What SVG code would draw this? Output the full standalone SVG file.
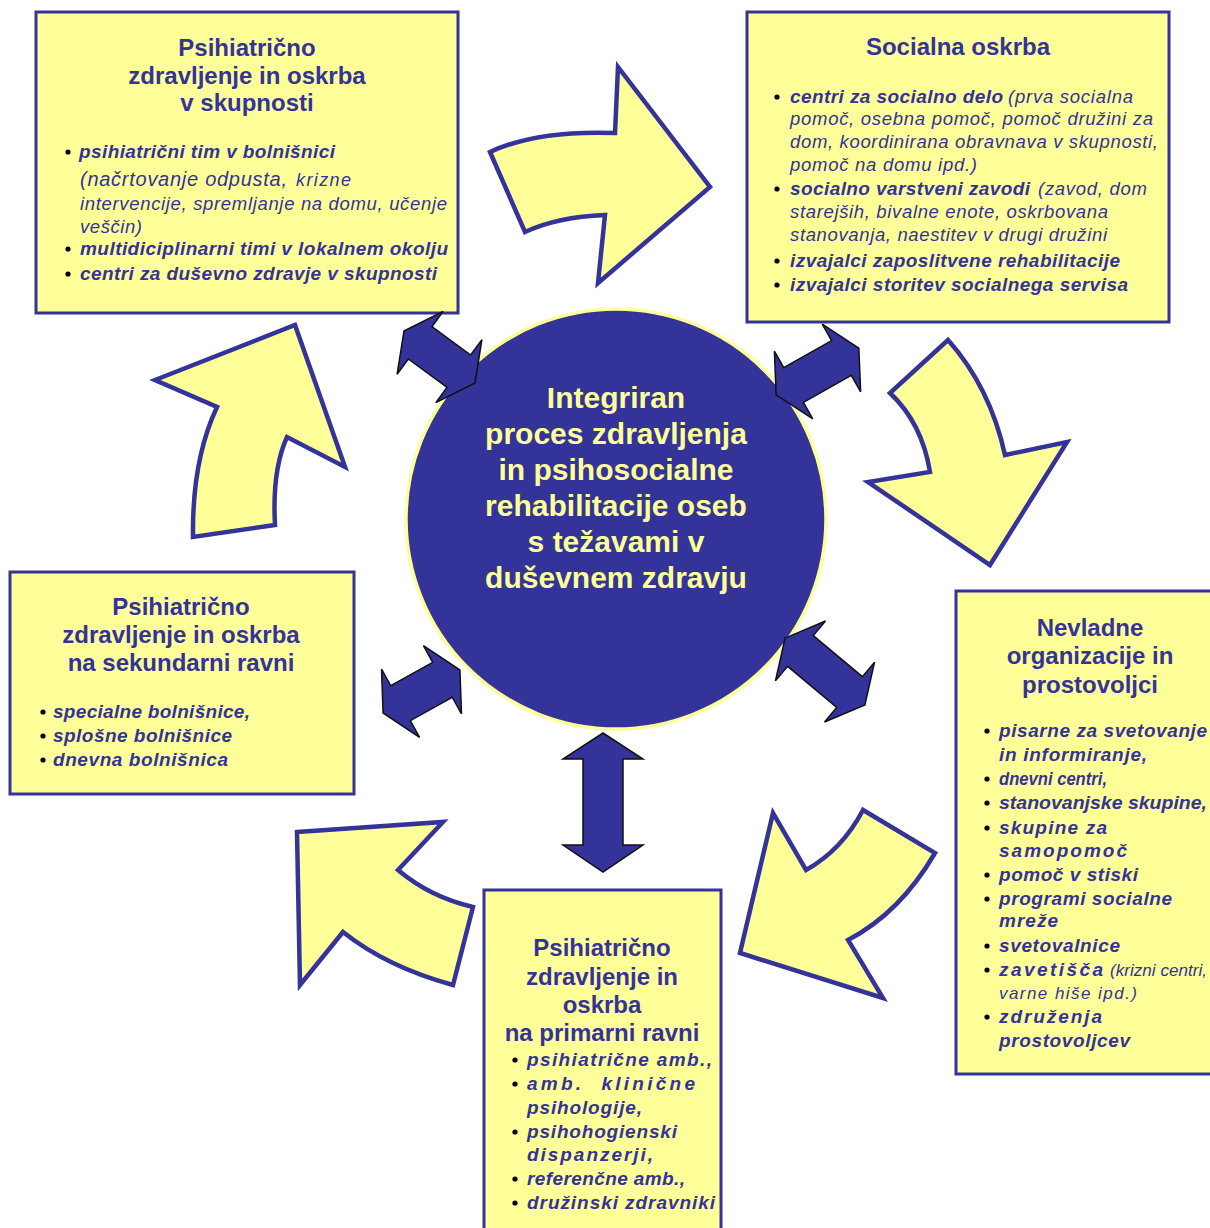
<svg xmlns="http://www.w3.org/2000/svg" width="1210" height="1228" viewBox="0 0 1210 1228">
<style>
.box{fill:#ffff99;stroke:#333399;stroke-width:3}
.t{font-family:'Liberation Sans',Arial,sans-serif;font-weight:bold;font-size:24px;fill:#333399;text-anchor:middle}
.b{font-family:'Liberation Sans',Arial,sans-serif;font-weight:bold;font-style:italic;font-size:19px;fill:#333399}
.n{font-family:'Liberation Sans',Arial,sans-serif;font-style:italic;font-size:18.5px;fill:#333399}
.c{font-family:'Liberation Sans',Arial,sans-serif;font-weight:bold;font-size:30px;fill:#ffff99;text-anchor:middle}
.dot{fill:#000}
.ya{fill:#ffff99;stroke:#333399;stroke-width:4.5;stroke-linejoin:miter}
.da{fill:#333399;stroke:#111;stroke-width:1.5;stroke-linejoin:miter}
</style>
<rect width="1210" height="1228" fill="#fff"/>

<g id="node-community">
<rect class="box" x="36" y="12" width="422" height="301"/>
<text class="t" x="247" y="56">Psihiatrično</text>
<text class="t" x="247" y="84">zdravljenje in oskrba</text>
<text class="t" x="247" y="111">v skupnosti</text>
<circle class="dot" cx="68" cy="152" r="2.6"/>
<text class="b" x="79" y="158" textLength="256">psihiatrični tim v bolnišnici</text>
<text class="n" x="80" y="186" style="font-size:20px" textLength="207">(načrtovanje odpusta,</text>
<text class="n" x="296" y="186" style="font-size:18px" textLength="55">krizne</text>
<text class="n" x="80" y="210" textLength="367">intervencije, spremljanje na domu, učenje</text>
<text class="n" x="80" y="233" textLength="62">veščin)</text>
<circle class="dot" cx="68" cy="249" r="2.6"/>
<text class="b" x="80" y="255" textLength="368">multidiciplinarni timi v lokalnem okolju</text>
<circle class="dot" cx="68" cy="274" r="2.6"/>
<text class="b" x="80" y="280" textLength="357">centri za duševno zdravje v skupnosti</text>
</g>

<g id="node-social">
<rect class="box" x="747" y="12" width="422" height="310"/>
<text class="t" x="958" y="55">Socialna oskrba</text>
<circle class="dot" cx="777" cy="97" r="2.6"/>
<text class="b" x="790" y="103" textLength="213">centri za socialno delo</text>
<text class="n" x="1008" y="103" textLength="125">(prva socialna</text>
<text class="n" x="790" y="125" textLength="363">pomoč, osebna pomoč, pomoč družini za</text>
<text class="n" x="790" y="148" textLength="368">dom, koordinirana obravnava v skupnosti,</text>
<text class="n" x="790" y="171" textLength="187">pomoč na domu ipd.)</text>
<circle class="dot" cx="777" cy="189" r="2.6"/>
<text class="b" x="790" y="195" textLength="240">socialno varstveni zavodi</text>
<text class="n" x="1038" y="195" textLength="109">(zavod, dom</text>
<text class="n" x="790" y="218" textLength="318">starejših, bivalne enote, oskrbovana</text>
<text class="n" x="790" y="241" textLength="317">stanovanja, naestitev v drugi družini</text>
<circle class="dot" cx="777" cy="261" r="2.6"/>
<text class="b" x="790" y="267" textLength="330">izvajalci zaposlitvene rehabilitacije</text>
<circle class="dot" cx="777" cy="285" r="2.6"/>
<text class="b" x="790" y="291" textLength="338">izvajalci storitev socialnega servisa</text>
</g>

<g id="node-ngo">
<rect class="box" x="956" y="591" width="270" height="483"/>
<text class="t" x="1090" y="636">Nevladne</text>
<text class="t" x="1090" y="664">organizacije in</text>
<text class="t" x="1090" y="693">prostovoljci</text>
<circle class="dot" cx="987" cy="731" r="2.6"/>
<text class="b" x="999" y="737" textLength="208">pisarne za svetovanje</text>
<text class="b" x="999" y="761" textLength="148">in informiranje,</text>
<circle class="dot" cx="987" cy="779" r="2.6"/>
<text class="b" x="999" y="785" textLength="108" lengthAdjust="spacingAndGlyphs">dnevni centri,</text>
<circle class="dot" cx="987" cy="803" r="2.6"/>
<text class="b" x="999" y="809" textLength="208" lengthAdjust="spacingAndGlyphs">stanovanjske skupine,</text>
<circle class="dot" cx="987" cy="828" r="2.6"/>
<text class="b" x="999" y="834" textLength="108">skupine za</text>
<text class="b" x="999" y="857" textLength="128">samopomoč</text>
<circle class="dot" cx="987" cy="875" r="2.6"/>
<text class="b" x="999" y="881" textLength="139">pomoč v stiski</text>
<circle class="dot" cx="987" cy="899" r="2.6"/>
<text class="b" x="999" y="905" textLength="173">programi socialne</text>
<text class="b" x="999" y="927" textLength="59">mreže</text>
<circle class="dot" cx="987" cy="946" r="2.6"/>
<text class="b" x="999" y="952" textLength="121">svetovalnice</text>
<circle class="dot" cx="987" cy="970" r="2.6"/>
<text class="b" x="999" y="976" textLength="104">zavetišča</text>
<text class="n" x="1110" y="976" style="font-size:17px" textLength="97">(krizni centri,</text>
<text class="n" x="999" y="999" style="font-size:17px" textLength="138">varne hiše ipd.)</text>
<circle class="dot" cx="987" cy="1017" r="2.6"/>
<text class="b" x="999" y="1023" textLength="103">združenja</text>
<text class="b" x="999" y="1047" textLength="131">prostovoljcev</text>
</g>

<g id="node-primary">
<rect class="box" x="484" y="890" width="237" height="350"/>
<text class="t" x="602" y="956">Psihiatrično</text>
<text class="t" x="602" y="985">zdravljenje in</text>
<text class="t" x="602" y="1013">oskrba</text>
<text class="t" x="602" y="1041">na primarni ravni</text>
<circle class="dot" cx="515" cy="1060" r="2.6"/>
<text class="b" x="527" y="1066" textLength="185">psihiatrične amb.,</text>
<circle class="dot" cx="515" cy="1084" r="2.6"/>
<text class="b" x="527" y="1090" textLength="168">amb.&#160; klinične</text>
<text class="b" x="527" y="1114" textLength="115">psihologije,</text>
<circle class="dot" cx="515" cy="1132" r="2.6"/>
<text class="b" x="527" y="1138" textLength="150">psihohogienski</text>
<text class="b" x="527" y="1161" textLength="126">dispanzerji,</text>
<circle class="dot" cx="515" cy="1179" r="2.6"/>
<text class="b" x="527" y="1185" textLength="158">referenčne amb.,</text>
<circle class="dot" cx="515" cy="1203" r="2.6"/>
<text class="b" x="527" y="1209" textLength="188">družinski zdravniki</text>
</g>

<g id="node-secondary">
<rect class="box" x="10" y="572" width="344" height="222"/>
<text class="t" x="181" y="615">Psihiatrično</text>
<text class="t" x="181" y="643">zdravljenje in oskrba</text>
<text class="t" x="181" y="671">na sekundarni ravni</text>
<circle class="dot" cx="43" cy="712" r="2.6"/>
<text class="b" x="53" y="718" textLength="197">specialne bolnišnice,</text>
<circle class="dot" cx="43" cy="736" r="2.6"/>
<text class="b" x="53" y="742" textLength="179">splošne bolnišnice</text>
<circle class="dot" cx="43" cy="760" r="2.6"/>
<text class="b" x="53" y="766" textLength="175">dnevna bolnišnica</text>
</g>

<g id="connectors">
<g id="cycle-arrows">
<path class="ya" d="M490,152 Q537,130 615,133 L618,67 L710,187 L598,283 L605,215 Q557,217 525,232 Z"/>
<path class="ya" d="M948,340 Q990,387 1005,455 L1067,442 L990,565 L868,482 L930,472 Q922,423 890,393 Z"/>
<path class="ya" d="M740,953 L773,813 L806,870 Q842,850 863,810 L935,853 Q900,913 848,940 L883,998 Z"/>
<path class="ya" d="M297,832 L443,822 L398,870 Q430,897 473,907 L453,985 Q387,967 343,932 L300,985 Z"/>
<path class="ya" d="M295,325 L345,467 L287,437 Q272,470 275,525 L193,537 Q192,460 217,407 L155,380 Z"/>
</g>
</g>

<g id="node-center">
<circle cx="616" cy="519" r="210" fill="#333399" stroke="#ffff99" stroke-width="3.5"/>
<text class="c" x="616" y="408">Integriran</text>
<text class="c" x="616" y="444">proces zdravljenja</text>
<text class="c" x="616" y="480">in psihosocialne</text>
<text class="c" x="616" y="516">rehabilitacije oseb</text>
<text class="c" x="616" y="552">s težavami v</text>
<text class="c" x="616" y="588">duševnem zdravju</text>
</g>

<g id="connectors-links">
<path class="da" transform="translate(439.5,357) rotate(36.2)" d="M-44,0 L-24,-39 L-24,-20 L24,-20 L24,-39 L44,0 L24,39 L24,20 L-24,20 L-24,39 Z"/>
<path class="da" transform="translate(817.5,371.5) rotate(-29.5)" d="M-47.5,0 L-27.5,-39 L-27.5,-20 L27.5,-20 L27.5,-39 L47.5,0 L27.5,39 L27.5,20 L-27.5,20 L-27.5,39 Z"/>
<path class="da" transform="translate(825,671.5) rotate(39.9)" d="M-52,0 L-32,-39 L-32,-20 L32,-20 L32,-39 L52,0 L32,39 L32,20 L-32,20 L-32,39 Z"/>
<path class="da" transform="translate(421.5,691.5) rotate(-29.2)" d="M-44,0 L-24,-39 L-24,-20 L24,-20 L24,-39 L44,0 L24,39 L24,20 L-24,20 L-24,39 Z"/>
<path class="da" d="M603,733 L643,759 L623,759 L623,845 L643,845 L603,872 L563,845 L583,845 L583,759 L563,759 Z"/>
</g>
</svg>
